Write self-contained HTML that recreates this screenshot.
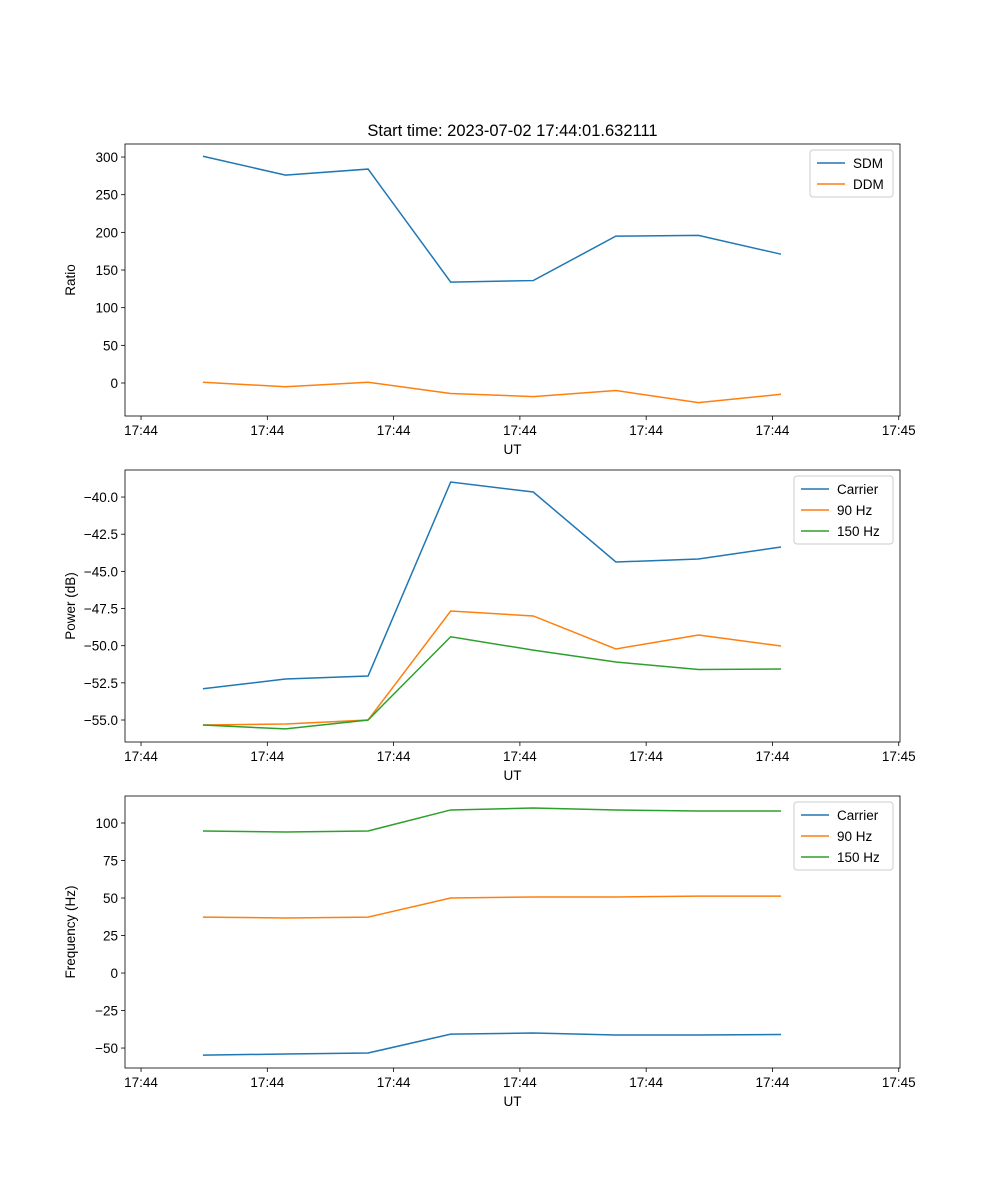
<!DOCTYPE html>
<html><head><meta charset="utf-8"><style>
body{margin:0;background:#fff}
svg{font-family:"Liberation Sans","DejaVu Sans",sans-serif;display:block}
</style></head><body>
<svg id="fig" width="1000" height="1200"></svg>
<script>
const times=[4.9,11.44,17.98,24.52,31.06,37.6,44.14,50.68];
const tickSec=[0,10,20,30,40,50,60];
const tickLabels=["17:44","17:44","17:44","17:44","17:44","17:44","17:45"];
const sdm=[301,276,284,134,136,195,196,171];
const ddm=[1,-5,1,-14,-18,-10,-26,-15];
const pCarrier=[-52.9,-52.24,-52.04,-38.99,-39.66,-44.37,-44.17,-43.36];
const p90=[-55.34,-55.27,-55.0,-47.67,-48.0,-50.22,-49.28,-50.02];
const p150=[-55.34,-55.6,-55.0,-49.4,-50.3,-51.1,-51.6,-51.57];
const fCarrier=[-54.7,-54,-53.3,-40.7,-40,-41.3,-41.3,-41];
const f90=[37.3,36.7,37.3,50,50.7,50.7,51.3,51.3];
const f150=[94.7,94,94.7,108.7,110,108.7,108,108];
const y1Ticks=[0,50,100,150,200,250,300];
const y2Ticks=[-55,-52.5,-50,-47.5,-45,-42.5,-40];
const y3Ticks=[-50,-25,0,25,50,75,100];
const C=["#1f77b4","#ff7f0e","#2ca02c"];
const NS="http://www.w3.org/2000/svg";
const svg=document.getElementById('fig');
function el(t,a,p){const e=document.createElementNS(NS,t);for(const k in a)e.setAttribute(k,a[k]);(p||svg).appendChild(e);return e;}
const L=125,R=900,xmin=-1.27,xmax=60.1;
const xs=t=>L+(t-xmin)/(xmax-xmin)*(R-L);
function fmt(v,d){return v.toFixed(d).replace('-','\u2212');}
function axes(name,top,bot,ymin,ymax,yt,dec,ylabel,series,legW){
  const g=el('g',{});
  
  
  const ys=v=>bot-(v-ymin)/(ymax-ymin)*(bot-top);
  tickSec.forEach((s,i)=>{const x=xs(s);
    el('line',{x1:x,x2:x,y1:bot,y2:bot+4,stroke:'#000','stroke-width':0.8},g);
    const t=el('text',{x:x,y:bot+19,'font-size':13.5,'text-anchor':'middle'},g);t.textContent=tickLabels[i];
    });
  yt.forEach(v=>{const y=ys(v);
    el('line',{x1:L-4,x2:L,y1:y,y2:y,stroke:'#000','stroke-width':0.8},g);
    const t=el('text',{x:L-7,y:y+5,'font-size':13.5,'text-anchor':'end'},g);t.textContent=fmt(v,dec);
    });
  series.forEach(s=>{const p=el('polyline',{points:times.map((t,i)=>xs(t)+','+ys(s.d[i])).join(' '),fill:'none',stroke:s.c,'stroke-width':1.5},g);
    });
  el('rect',{x:L,y:top,width:R-L,height:bot-top,fill:'none',stroke:'#000','stroke-width':0.8},g);
  const xl=el('text',{x:(L+R)/2,y:bot+38,'font-size':13.5,'text-anchor':'middle'},g);xl.textContent='UT';
  
  const yl=el('text',{x:0,y:0,'font-size':13.5,'text-anchor':'middle',transform:`translate(${L-50},${(top+bot)/2}) rotate(-90)`},g);yl.textContent=ylabel;
  
  const lg=el('g',{},g);
  
  const lx=R-7-legW,ly=top+6;
  el('rect',{x:lx,y:ly,width:legW,height:series.length*21+5,rx:3,fill:'#fff',stroke:'#ccc'},lg);
  series.forEach((s,i)=>{const y=ly+13+i*21;
    el('line',{x1:lx+7,x2:lx+35,y1:y,y2:y,stroke:s.c,'stroke-width':1.5},lg);
    const t=el('text',{x:lx+43,y:y+5,'font-size':13.5},lg);t.textContent=s.l;
    });
}
const tt=el('text',{x:512.5,y:136,'font-size':16.5,'text-anchor':'middle'});tt.textContent='Start time: 2023-07-02 17:44:01.632111';

axes('ratio-axes',144,416,-43.8,317.3,y1Ticks,0,'Ratio',[{d:sdm,c:C[0],l:'SDM',n:'sdm-line'},{d:ddm,c:C[1],l:'DDM',n:'ddm-line'}],83);
axes('power-axes',470,742,-56.48,-38.18,y2Ticks,1,'Power (dB)',[{d:pCarrier,c:C[0],l:'Carrier',n:'carrier-power-line'},{d:p90,c:C[1],l:'90 Hz',n:'90hz-power-line'},{d:p150,c:C[2],l:'150 Hz',n:'150hz-power-line'}],99);
axes('frequency-axes',796,1068,-63.3,118,y3Ticks,0,'Frequency (Hz)',[{d:fCarrier,c:C[0],l:'Carrier',n:'carrier-freq-line'},{d:f90,c:C[1],l:'90 Hz',n:'90hz-freq-line'},{d:f150,c:C[2],l:'150 Hz',n:'150hz-freq-line'}],99);
</script>
</body></html>
